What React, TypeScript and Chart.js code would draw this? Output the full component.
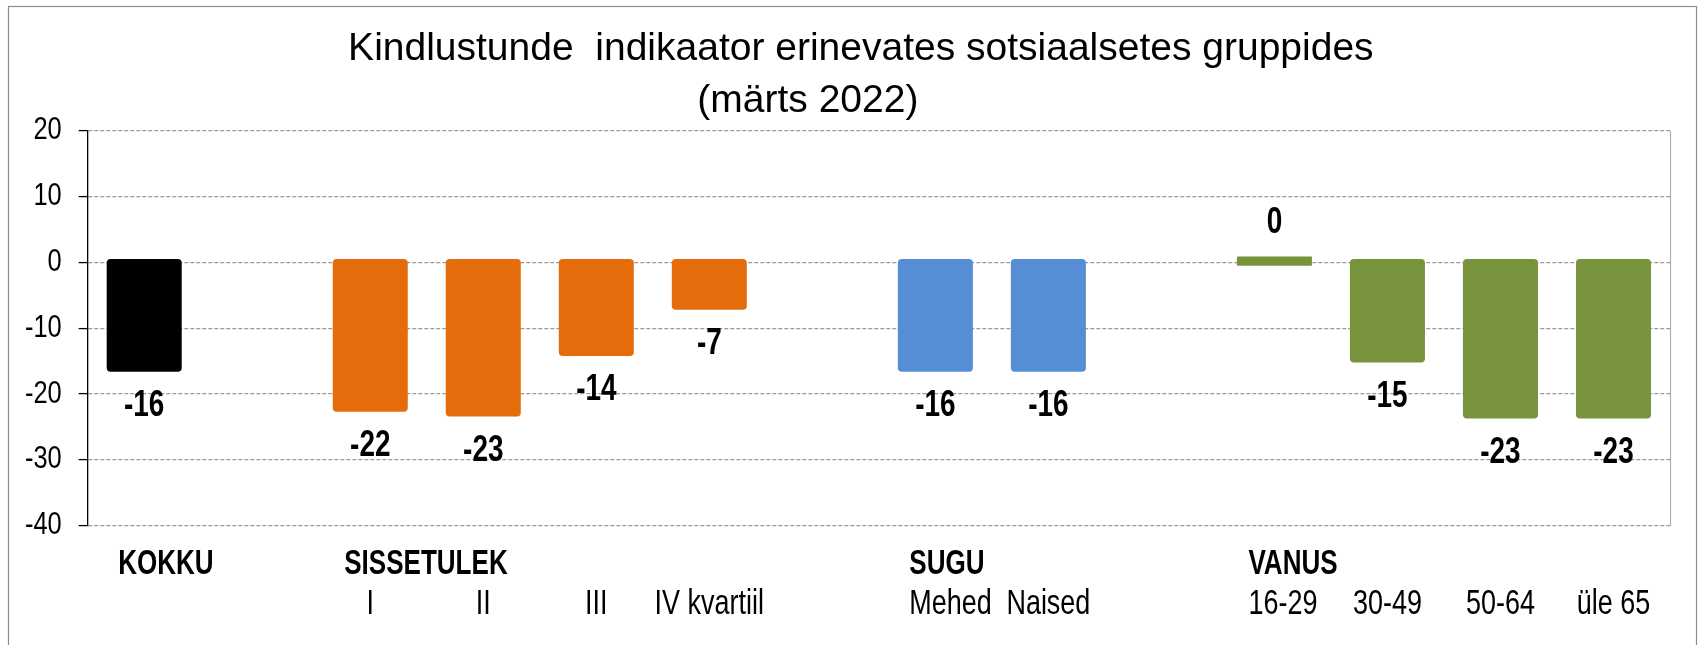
import React, { useEffect, useRef } from "react";
import { Chart, registerables } from "chart.js";

Chart.register(...registerables);

// ---- data ----
const titleLines = ["Kindlustunde  indikaator erinevates sotsiaalsetes gruppides", "(märts 2022)"];
const groupLabels = ["KOKKU", "", "SISSETULEK", "", "", "", "", "SUGU", "", "", "VANUS", "", "", ""];
const subLabels = ["", "", "I", "II", "III", "IV kvartiil", "", "Mehed", "Naised", "", "16-29", "30-49", "50-64", "üle 65"];
const values: (number | null)[] = [-16.0, null, -22.1, -22.8, -13.6, -6.6, null, -16.0, -16.0, null, 0.3, -14.6, -23.1, -23.1];
const barColors = ["#000000", "#000000", "#E46C0A", "#E46C0A", "#E46C0A", "#E46C0A", "#E46C0A", "#558ED5", "#558ED5", "#558ED5", "#77933C", "#77933C", "#77933C", "#77933C"];
const yMin = -40;
const yMax = 20;
const yStep = 10;

function fontAvailable(name: string): boolean {
  const c = document.createElement("canvas").getContext("2d");
  if (!c) return false;
  const s = "abcdefghijKLMNOPQRS0123456789";
  c.font = "40px monospace";
  const w1 = c.measureText(s).width;
  c.font = `40px '${name}', monospace`;
  const w2 = c.measureText(s).width;
  return Math.abs(w1 - w2) > 0.5;
}

let NARROW_OK = false;

function drawText(
  ctx: CanvasRenderingContext2D,
  text: string,
  x: number,
  y: number,
  align: CanvasTextAlign,
  baseline: CanvasTextBaseline,
  size: number,
  bold: boolean,
  narrow: boolean,
  hscale: number = 1
) {
  ctx.save();
  const weight = bold ? "bold " : "";
  ctx.fillStyle = "#000";
  ctx.textAlign = align;
  ctx.textBaseline = baseline;
  ctx.translate(x, y);
  if (narrow && NARROW_OK) {
    ctx.scale(hscale, 1);
    ctx.font = `${weight}${size}px 'Liberation Sans Narrow', 'Arial Narrow', sans-serif`;
  } else if (narrow) {
    ctx.scale(0.82 * hscale, 1);
    ctx.font = `${weight}${size}px 'Liberation Sans', Arial, sans-serif`;
  } else {
    ctx.scale(hscale, 1);
    ctx.font = `${weight}${size}px 'Liberation Sans', Arial, sans-serif`;
  }
  ctx.fillText(text, 0, 0);
  ctx.restore();
}

const decorPlugin = {
  id: "decor",
  beforeDraw(chart: any) {
    const ctx = chart.ctx as CanvasRenderingContext2D;
    ctx.save();
    ctx.fillStyle = "#fff";
    ctx.fillRect(0, 0, chart.width, chart.height);
    ctx.strokeStyle = "#8c8c8c";
    ctx.lineWidth = 1.2;
    ctx.strokeRect(8.5, 6.5, chart.width - 10, chart.height + 40);
    ctx.restore();
  },
  afterDraw(chart: any) {
    const ctx = chart.ctx as CanvasRenderingContext2D;
    const area = chart.chartArea;
    const yScale = chart.scales.y;
    const xScale = chart.scales.x;
    // plot area right border
    ctx.save();
    ctx.strokeStyle = "#b0b0b0";
    ctx.lineWidth = 1.2;
    ctx.beginPath();
    ctx.moveTo(area.right + 0.5, area.top);
    ctx.lineTo(area.right + 0.5, area.bottom);
    ctx.stroke();
    ctx.restore();

    // title
    const cx = (area.left + area.right) / 2;
    drawText(ctx, titleLines[0], cx - 18, 59.5, "center", "alphabetic", 39, false, false);
    drawText(ctx, titleLines[1], cx - 71, 111.5, "center", "alphabetic", 39, false, false);

    // y tick labels
    yScale.ticks.forEach((t: any) => {
      const py = yScale.getPixelForValue(t.value);
      drawText(ctx, String(t.value), area.left - 26, py, "right", "middle", 31, false, true);
    });

    // x labels
    for (let i = 0; i < subLabels.length; i++) {
      const px = xScale.getPixelForValue(i);
      const g = groupLabels[i];
      const s = subLabels[i];
      if (g) drawText(ctx, g, px - 26, area.bottom + 48, "left", "alphabetic", 34.5, true, true, 0.92);
      if (s) {
        if (g && s.length > 3) drawText(ctx, s, px - 26, area.bottom + 88, "left", "alphabetic", 35, false, true, 0.94);
        else drawText(ctx, s, px, area.bottom + 88, "center", "alphabetic", 35, false, true, 0.94);
      }
    }

    // data labels
    const meta = chart.getDatasetMeta(0);
    meta.data.forEach((el: any, i: number) => {
      const v = values[i];
      if (v === null || v === undefined) return;
      const label = String(Math.round(v));
      const y = v < 0 ? el.y + 38 : el.y - 37.5;
      drawText(ctx, label, el.x, y, "center", "middle", 37, true, true, 0.92);
    });
  },
};

export default function App() {
  const canvasRef = useRef<HTMLCanvasElement | null>(null);

  useEffect(() => {
    document.body.style.margin = "0";
    document.body.style.overflow = "hidden";
    NARROW_OK = fontAvailable("Liberation Sans Narrow");
    const canvas = canvasRef.current;
    if (!canvas) return;
    const chart = new Chart(canvas, {
      type: "bar",
      data: {
        labels: subLabels.map((s, i) => (groupLabels[i] + " " + s).trim() || `gap${i}`),
        datasets: [
          {
            data: values as any,
            backgroundColor: barColors,
            borderWidth: 0,
            borderRadius: 4,
            borderSkipped: false,
            inflateAmount: 4,
            barPercentage: 0.593,
            categoryPercentage: 1,
          } as any,
        ],
      },
      options: {
        animation: false,
        responsive: false,
        devicePixelRatio: 1,
        layout: { padding: { left: 0, right: 28, top: 130.7, bottom: 119.3 } },
        plugins: { legend: { display: false }, title: { display: false }, tooltip: { enabled: false } },
        scales: {
          x: { display: false },
          y: {
            min: yMin,
            max: yMax,
            afterFit: (scale: any) => {
              scale.width = 87.7;
            },
            ticks: { stepSize: yStep, display: false },
            grid: {
              color: "#9a9a9a",
              lineWidth: 1.2,
              drawTicks: true,
              tickLength: 9,
              tickColor: "#000",
              tickWidth: 1.3,
            },
            border: { display: true, color: "#000", width: 1.3, dash: [4, 2] },
          },
        },
      },
      plugins: [decorPlugin],
    });
    return () => chart.destroy();
  }, []);

  return (
    <div style={{ width: 1698, height: 645 }}>
      <canvas ref={canvasRef} width={1698} height={645} style={{ display: "block" }} />
    </div>
  );
}
